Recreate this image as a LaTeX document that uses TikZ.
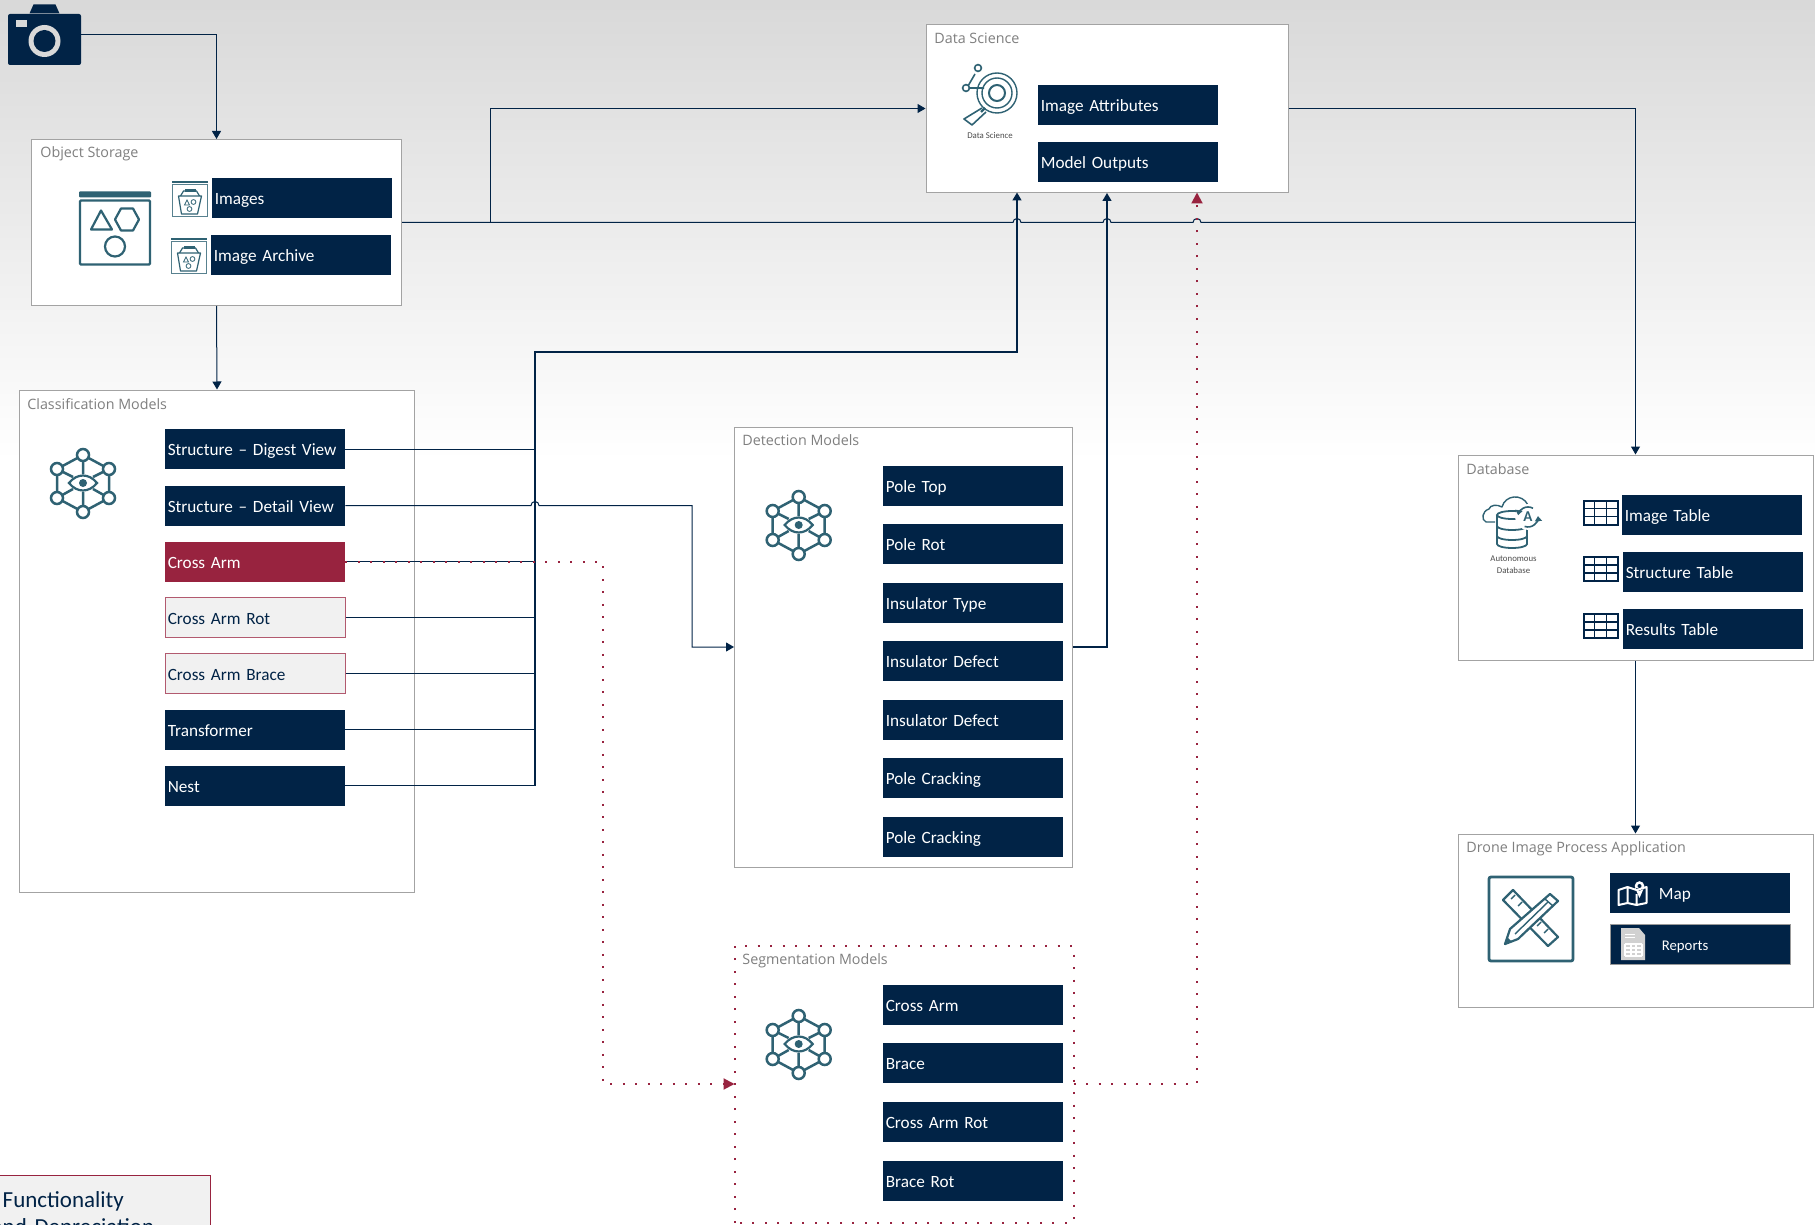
\documentclass[tikz,border=0pt]{standalone}
\usepackage{fontspec}
\setmainfont{Carlito}
\newfontfamily\titlefont{Open Sans}
\usepackage{tikz}
\usetikzlibrary{calc}
\usetikzlibrary{arrows.meta}
\definecolor{navybar}{HTML}{012346}
\definecolor{crimson}{HTML}{98233F}
\definecolor{tealicon}{HTML}{2F6273}
\definecolor{panelgrey}{HTML}{A3A3A3}
\definecolor{titlegrey}{HTML}{7F7F7F}
\definecolor{paleface}{HTML}{F1F1F1}
\newcommand{\hopat}[2]{-- (#1-4,#2) arc[start angle=180,end angle=360,radius=4]}

\begin{document}
\begin{tikzpicture}[x=0.5pt,y=-0.5pt,
    panel/.style 2 args={draw=panelgrey,fill=white,line width=0.5pt,inner sep=0pt,
                         minimum width=#1*0.5pt,minimum height=#2*0.5pt},
    paneltitle/.style={anchor=west,inner sep=0pt,text=titlegrey,font=\titlefont\fontsize{7.15}{8}\selectfont},
    bar/.style={fill=navybar,text=white,inner xsep=1.4pt,inner ysep=0pt,align=left,text width=87.2pt,
                text height=8.5pt,text depth=2pt,minimum height=20pt,font=\fontsize{8.6}{10}\selectfont},
    redbar/.style={bar,fill=crimson},
    palebar/.style={bar,fill=paleface,draw=crimson!75,line width=0.5pt,text=navybar},
    caption/.style={inner sep=0pt,align=center,text=black!70,font=\fontsize{4.4}{6}\selectfont},
    link/.style={draw=navybar,line width=0.5pt},
    buslink/.style={draw=navybar,line width=0.8pt},
    redlink/.style={draw=crimson,line width=1pt,dash pattern=on 1pt off 5.25pt},
    arrow/.style={-{Triangle[length=4pt,width=4.5pt]}},
    redarrow/.style={-{Triangle[length=5.5pt,width=5.5pt]}},
    modelicon/.pic={
      \draw[tealicon,line width=1.25pt,line join=round] (0,-28) -- (26,-14) -- (26,15) -- (0,29) -- (-26,15) -- (-26,-14) -- cycle;
      \draw[tealicon,line width=1.25pt] (0,-28) -- (0,-9) (0,29) -- (0,9) (-26,-14) -- (-10,-6) (26,-14) -- (10,-6)
            (-26,15) -- (-10,6) (26,15) -- (10,6);
      \draw[tealicon,fill=white,line width=1.1pt] (-14,0) .. controls (-6,-10) and (6,-10) .. (14,0) .. controls (6,10) and (-6,10) .. (-14,0) -- cycle;
      \fill[tealicon] (0,0) circle (2pt);
      \draw[tealicon,fill=white,line width=1.25pt] (0,-28) circle (3pt) (26,-14) circle (3pt) (26,15) circle (3pt)
            (0,29) circle (3pt) (-26,15) circle (3pt) (-26,-14) circle (3pt);
    },
    shapesicon/.pic={
      \fill[tealicon,rounded corners=0.5pt] (-36,-37) rectangle (36,-31);
      \draw[tealicon,line width=1.1pt,rounded corners=0.5pt] (-35,-28) rectangle (35,36);
      \draw[tealicon,line width=1.1pt,line join=round] (-24,1) -- (-3,1) -- (-14,-18) -- cycle;
      \draw[tealicon,line width=1.1pt,line join=round] (0,-9) -- (6,-20) -- (18,-20) -- (24,-9) -- (18,2) -- (6,2) -- cycle;
      \draw[tealicon,line width=1.1pt] (0,18) circle (5pt);
    },
    bucketicon/.pic={
      \fill[tealicon] (-18,-18) rectangle (18,-16);
      \draw[tealicon!80,fill=white,line width=0.5pt] (-17.5,-14.5) rectangle (17.5,18);
      \draw[tealicon,line width=0.6pt,line join=round] (-11,-3) -- (12,-3) -- (8,15) -- (-8,15) -- cycle;
      \draw[tealicon,line width=0.6pt] (-9,-3) -- (-6,-8) -- (7,-8) -- (10,-3);
      \fill[tealicon] (-5,-10) rectangle (6,-7);
      \draw[tealicon,line width=0.4pt] (-5,6) -- (0,6) -- (-2.5,1) -- cycle (4,3) circle (1.2pt) (0,10) circle (1.2pt);
    },
    scienceicon/.pic={
      \draw[tealicon,line width=0.7pt] (0,0) circle (10pt);
      \draw[tealicon,line width=0.7pt] (0,0) circle (7.5pt);
      \draw[tealicon,line width=1pt] (0,0) circle (4pt);
      \draw[tealicon,line width=1.1pt] (-12,15) -- (-16,19);
      \draw[tealicon,line width=0.8pt,line join=round] (-15,15) -- (-33,26) -- (-25,32) -- (-11,19);
      \draw[tealicon,line width=0.8pt] (-22,-19) -- (-29,-7) (-28,-5) -- (-13,-5);
      \draw[tealicon,fill=white,line width=0.8pt] (-19,-25) circle (1.7pt) (-31,-5) circle (1.7pt);
    },
    cloudicon/.pic={
      \draw[tealicon,line width=0.7pt,line join=round] (-17,-1) -- (-26,-1) .. controls (-31,-3) and (-30,-12) .. (-23,-14)
            .. controls (-22,-18) and (-15,-19) .. (-10,-16) .. controls (-7,-28) and (10,-30) .. (16,-18);
      \draw[tealicon,fill=white,line width=0.9pt] (-15,-8) -- (-15,21) arc[start angle=180,end angle=0,x radius=15,y radius=4] -- (15,-8);
      \draw[tealicon,fill=white,line width=0.9pt] (0,-8) ellipse (7.5pt and 2pt);
      \draw[tealicon,line width=0.9pt] (-15,3) arc[start angle=180,end angle=0,x radius=15,y radius=4]
            (-15,13) arc[start angle=180,end angle=0,x radius=15,y radius=4];
      \fill[white] (16,-6) circle (6.5pt);
      \draw[tealicon,line width=0.8pt,-{Triangle[length=2.5pt,width=3.5pt]}] (21,-14.7) arc[start angle=300,end angle=190,radius=10];
      \draw[tealicon,line width=0.8pt,-{Triangle[length=2.5pt,width=3.5pt]}] (12.6,3.4) arc[start angle=110,end angle=-5,radius=10];
    },
    tableicon/.pic={
      \fill[white] (-17,-12) rectangle (17,12);
      \draw[navybar,line width=1pt] (-17,-12) rectangle (17,12);
      \draw[navybar,line width=0.9pt] (-6,-12) -- (-6,12) (6,-12) -- (6,12) (-17,-4) -- (17,-4) (-17,4) -- (17,4);
    },
    toolsicon/.pic={
      \draw[tealicon,line width=1.4pt,fill=white,rounded corners=1pt] (-42,-42) rectangle (42,42);
      \draw[tealicon,line width=1.1pt,line join=round] (-28,-19) -- (-18,-29) -- (27,18) -- (17,27) -- cycle;
      \draw[tealicon,line width=0.7pt] (-20,-20) -- (-16,-24) (-13,-13) -- (-9,-17) (6,7) -- (10,3) (13,14) -- (17,10);
      \draw[tealicon,fill=white,line width=1.1pt,line join=round] (-26,25) -- (-21,10) -- (19,-25) -- (27,-18) -- (-13,20) -- cycle;
      \draw[tealicon,line width=0.7pt] (14,-20) -- (22,-13) (-16,15) -- (17,-17);
      \fill[tealicon] (-26,25) -- (-24,18) -- (-19,23) -- cycle;
    },
    mapicon/.pic={
      \draw[white,line width=1pt,line join=round] (-14,-5) -- (-5,-8) -- (4,-5) -- (14,-8) -- (14,8) -- (4,10) -- (-5,8) -- (-14,10) -- cycle
            (-5,-8) -- (-5,8) (4,-1) -- (4,10);
      \fill[white] (7,-9) circle (2.4pt) (2.6,-7) -- (11.4,-7) -- (7,3) -- cycle;
      \fill[navybar] (7,-9) circle (1pt);
    },
    reporticon/.pic={
      \fill[black!18] (-12,-16) -- (6,-16) -- (12,-9) -- (12,16) -- (-12,16) -- cycle;
      \draw[white,line width=0.5pt] (-8,-10) -- (2,-10) (-8,-7) -- (2,-7);
      \draw[white,line width=0.6pt] (-8,0) -- (9,0) (-8,4) -- (9,4) (-8,8) -- (9,8) (-8,12) -- (9,12)
            (-8,0) -- (-8,12) (-2,0) -- (-2,12) (3,0) -- (3,12) (9,0) -- (9,12);
    },
    cameraicon/.pic={
      \fill[navybar] (-15,-26) -- (-11,-35) -- (11,-35) -- (15,-26) -- cycle;
      \fill[black!15] (-29,-19) rectangle (-18,-12);
      \fill[black!15] (0,1.5) circle (8pt);
      \fill[navybar] (0,1.5) circle (5.5pt);
    }]
 \path[use as bounding box,clip] (0,0) rectangle (1815,1225);
 \shade[top color=black!15,bottom color=white] (0,0) rectangle (1815,460);

 \node[panel={370}{166}] (os) at (216.5,222.5) {};
 \node[panel={362}{168}] (ds) at (1107,108.5) {};
 \node[panel={395}{502}] (cm) at (217,641) {};
 \node[panel={338}{440}] (dm) at (903.5,647) {};
 \node[panel={338}{276},draw=none] (sm) at (904,1084) {};
 \node[panel={355}{205}] (dbase) at (1635.5,557.5) {};
 \node[panel={355}{173}] (app) at (1635.5,920.5) {};

 \node[paneltitle] (ostitle) at (40,154) {Object Storage};
 \node[paneltitle] (dstitle) at (934,38.5) {Data Science};
 \node[paneltitle] (cmtitle) at (27,404.5) {Classification Models};
 \node[paneltitle] (dmtitle) at (742,440.5) {Detection Models};
 \node[paneltitle] (smtitle) at (742,961) {Segmentation Models};
 \node[paneltitle] (dbtitle) at (1466,469.5) {Database};
 \node[paneltitle] (apptitle) at (1466,849) {Drone Image Process Application};

 \node[bar] (images) at (302,198) {Images};
 \node[bar] (archive) at (301,255) {Image Archive};
 \node[bar] (attributes) at (1128,105) {Image Attributes};
 \node[bar] (outputs) at (1128,162) {Model Outputs};

 \node[bar] (digest) at (255,449) {Structure -- Digest View};
 \node[bar] (detail) at (255,505.5) {Structure -- Detail View};
 \node[redbar] (crossarm) at (255,561.5) {Cross Arm};
 \node[palebar] (armrot) at (255,617.5) {Cross Arm Rot};
 \node[palebar] (armbrace) at (255,673.5) {Cross Arm Brace};
 \node[bar] (transformer) at (255,729.5) {Transformer};
 \node[bar] (nest) at (255,785.5) {Nest};

 \node[bar] (poletop) at (973,485.5) {Pole Top};
 \node[bar] (polerot) at (973,544) {Pole Rot};
 \node[bar] (instype) at (973,602.5) {Insulator Type};
 \node[bar] (insdefecta) at (973,661) {Insulator Defect};
 \node[bar] (insdefectb) at (973,719.5) {Insulator Defect};
 \node[bar] (polecracka) at (973,778) {Pole Cracking};
 \node[bar] (polecrackb) at (973,836.5) {Pole Cracking};

 \node[bar] (segarm) at (973,1005) {Cross Arm};
 \node[bar] (segbrace) at (973,1063) {Brace};
 \node[bar] (segarmrot) at (973,1122) {Cross Arm Rot};
 \node[bar] (segbracerot) at (973,1181) {Brace Rot};

 \node[bar] (imagetable) at (1712,515) {Image Table};
 \node[bar] (structtable) at (1713,572) {Structure Table};
 \node[bar] (resulttable) at (1713,629) {Results Table};

 \node[bar] (mapbar) at (1700,893) {\hspace*{23pt}Map};
 \node[bar,draw=black!40,line width=0.4pt,font=\fontsize{7.4}{9}\selectfont] (reportsbar) at (1700,944) {\hspace*{24.5pt}Reports};

 \node[caption] (dscaption) at (990,135.5) {Data Science};
 \node[caption] (dbcaption) at (1513.5,565) {Autonomous\\Database};

 \node[fill=navybar,rounded corners=1pt,inner sep=0pt,minimum width=36.5pt,minimum height=25.5pt] (camera) at (44.5,39.5) {};
 \path (camera.center) pic {cameraicon};
 \path (115,228.5) pic {shapesicon};
 \path (189.5,199) pic {bucketicon};
 \path (188.5,256) pic {bucketicon};
 \path (997,93) pic {scienceicon};
 \path (83,483) pic {modelicon};
 \path (798.7,525) pic {modelicon};
 \path (798.7,1044) pic {modelicon};
 \path (1512,523) pic {cloudicon};
 \node[inner sep=0pt,text=tealicon,font=\bfseries\fontsize{7.5}{8}\selectfont] (autonomousa) at (1528,517) {A};
 \path (1600.5,512.5) pic {tableicon};
 \path (1600.5,569) pic {tableicon};
 \path (1600.5,626) pic {tableicon};
 \path (1531,919) pic {toolsicon};
 \path (1632.5,895) pic {mapicon};
 \path (1633,944) pic {reporticon};

 \node[draw=crimson,line width=0.7pt,fill=paleface,anchor=north west,inner xsep=1.5pt,inner ysep=8pt,
       text width=122pt,align=left,text=navybar,font=\fontsize{11.5}{13.4}\selectfont]
       (legend) at (-40,1175) {\hspace*{19.5pt}Functionality\\\hspace*{14pt}and Depreciation};

 \coordinate (camout) at (81,35);
 \coordinate (dsbranch) at (490,222.5);
 \coordinate (dbjoin) at (1635.5,222.5);
 \coordinate (bustop) at (535,352);
 \coordinate (dsfirst) at (1017,192.5);
 \coordinate (dsthird) at (1197,192.5);
 \coordinate (dmturn) at (692,647);
 \coordinate (smturn) at (603,1084);

 \draw[link,arrow] (camout) -| (os.north);
 \draw[link,arrow] (os.south) -- (cm.north);
 \draw[link] (os.east) \hopat{1017}{222.5} \hopat{1107}{222.5} \hopat{1197}{222.5} -- (dbjoin);
 \draw[link,arrow] (dsbranch) |- (ds.west);
 \draw[link,arrow] (ds.east) -| (dbase.north);
 \draw[link,arrow] (dbase.south) -- (app.north);

 \draw[buslink,arrow] (nest.east) -| (bustop) -| (dsfirst);
 \draw[link] (digest.east) -- (digest.east -| bustop);
 \draw[link] (crossarm.east) -- (crossarm.east -| bustop);
 \draw[link] (armrot.east) -- (armrot.east -| bustop);
 \draw[link] (armbrace.east) -- (armbrace.east -| bustop);
 \draw[link] (transformer.east) -- (transformer.east -| bustop);
 \draw[link,arrow] (detail.east) \hopat{535}{505.5} -| (dmturn) -- (dm.west);
 \draw[link,line width=0.6pt,arrow] (dm.east) -| (ds.south);

 \draw[redlink] (sm.south west) -- (sm.north west) -- (sm.north east) -- (sm.south east) -- cycle;
 \draw[redlink,redarrow] (crossarm.east) -| (smturn) -- (sm.west);
 \draw[redlink,redarrow] (sm.east) -| (dsthird);
\end{tikzpicture}
\end{document}
